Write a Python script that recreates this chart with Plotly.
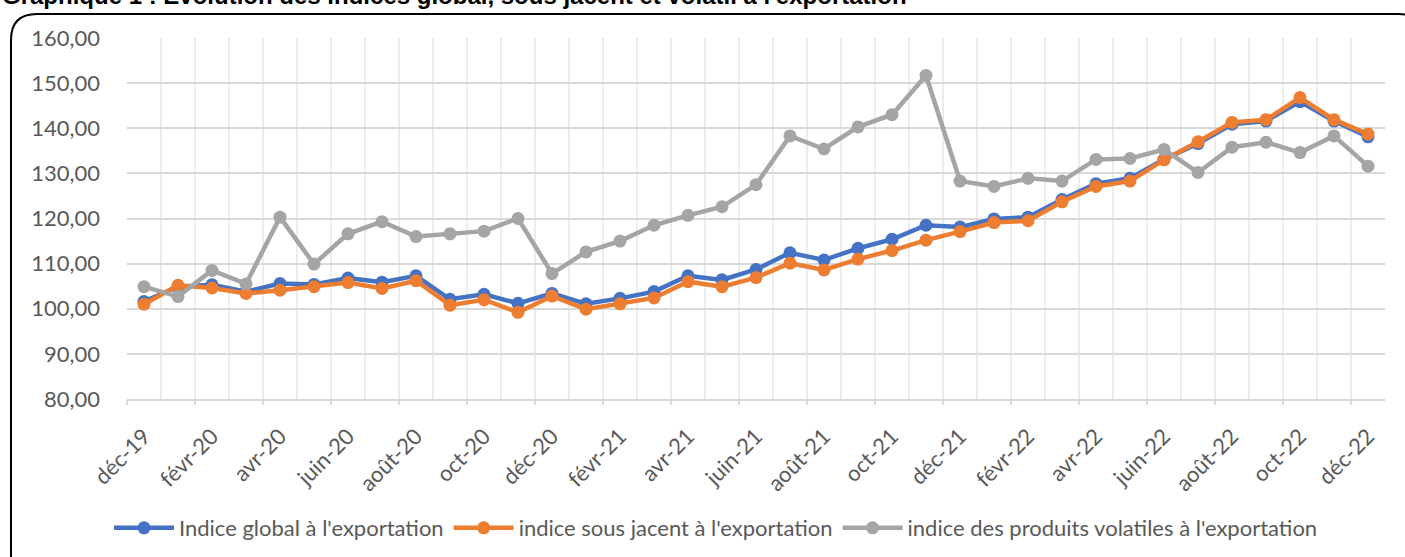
import plotly.graph_objects as go

months = ["déc-19", "janv-20", "févr-20", "mars-20", "avr-20", "mai-20", "juin-20", "juil-20",
          "août-20", "sept-20", "oct-20", "nov-20", "déc-20", "janv-21", "févr-21", "mars-21",
          "avr-21", "mai-21", "juin-21", "juil-21", "août-21", "sept-21", "oct-21", "nov-21",
          "déc-21", "janv-22", "févr-22", "mars-22", "avr-22", "mai-22", "juin-22", "juil-22",
          "août-22", "sept-22", "oct-22", "nov-22", "déc-22"]

indice_global = [101.6, 104.9, 105.3, 103.8, 105.6, 105.4, 106.8, 105.9, 107.3, 102.1, 103.2, 101.2,
                 103.4, 101.1, 102.3, 103.8, 107.3, 106.4, 108.7, 112.4, 110.8, 113.4, 115.4, 118.5,
                 118.1, 119.9, 120.3, 124.2, 127.7, 128.9, 133.1, 136.6, 140.9, 141.6, 145.9, 141.6, 138.1]
indice_sous_jacent = [101.0, 105.2, 104.6, 103.4, 104.1, 104.9, 105.8, 104.5, 106.2, 100.8, 102.0, 99.2,
                      102.8, 99.9, 101.1, 102.4, 106.0, 104.9, 106.9, 110.1, 108.6, 111.0, 112.9, 115.2,
                      117.1, 119.1, 119.5, 123.7, 127.1, 128.3, 133.0, 137.0, 141.3, 141.9, 146.8, 141.9, 138.7]
indice_volatil = [104.9, 102.7, 108.5, 105.5, 120.3, 109.9, 116.6, 119.3, 116.0, 116.6, 117.2, 120.0,
                  107.8, 112.6, 115.0, 118.5, 120.7, 122.6, 127.5, 138.3, 135.4, 140.3, 143.0, 151.7,
                  128.3, 127.1, 128.9, 128.3, 133.1, 133.3, 135.3, 130.2, 135.8, 136.9, 134.6, 138.3, 131.6]

series_names = ["Indice global à l'exportation", "indice sous jacent à l'exportation",
                "indice des produits volatiles à l'exportation"]
colors = ["#4472C4", "#ED7D31", "#A5A5A5"]
title_text = "Graphique 1 : Evolution des indices global, sous jacent et volatil à l'exportation"

W, H = 1405, 557
ML, MR, MT, MB = 127, 20, 38, 158
PW, PH = W - ML - MR, H - MT - MB

def px(x):
    return (x - ML) / PW

def py(y):
    return (H - MB - y) / PH

x = list(range(len(months)))
font_family = "Lato, 'Noto Sans', sans-serif"
txt_col = "#595959"

fig = go.Figure()
for name, vals, col in zip(series_names, [indice_global, indice_sous_jacent, indice_volatil], colors):
    fig.add_trace(go.Scatter(
        x=x, y=vals, name=name, mode="lines+markers",
        line=dict(color=col, width=4.5),
        marker=dict(color=col, size=13),
        customdata=months, hovertemplate="%{customdata}: %{y:.2f}<extra></extra>",
    ))

# dummy trace for the tick-mark axis
fig.add_trace(go.Scatter(x=[x[0]], y=[None], xaxis="x2", showlegend=False, hoverinfo="skip"))

fig.update_layout(
    width=W, height=H,
    margin=dict(l=ML, r=MR, t=MT, b=MB, autoexpand=False),
    paper_bgcolor="white", plot_bgcolor="white",
    separators=", ",
    font=dict(family=font_family, size=22, color=txt_col),
    showlegend=True,
    legend=dict(orientation="h", x=px(716), xanchor="center", y=py(528), yanchor="middle",
                font=dict(size=22, color=txt_col), itemwidth=60, tracegroupgap=0),
    xaxis=dict(
        range=[-0.5, len(months) - 0.5],
        tickmode="array", tickvals=x[::2], ticktext=months[::2], tickangle=-45,
        showgrid=False, zeroline=False,
        showline=True, linecolor="#d9d9d9", linewidth=1.5,
        ticks="", ticklabelstandoff=14,
        tickfont=dict(size=22, color=txt_col),
        minor=dict(tickmode="array", tickvals=[i - 0.5 for i in range(len(months) + 1)],
                   showgrid=True, gridcolor="#ececec", gridwidth=1.5, ticks=""),
    ),
    xaxis2=dict(
        overlaying="x", anchor="y", side="bottom", matches="x",
        range=[-0.5, len(months) - 0.5],
        tickmode="array", tickvals=[i - 0.5 for i in range(0, len(months) + 1, 2)],
        ticks="outside", ticklen=5, tickcolor="#d9d9d9", tickwidth=1.5,
        showticklabels=False, showgrid=False, zeroline=False, showline=False,
    ),
    yaxis=dict(
        range=[80, 160], dtick=10, tick0=80, tickformat=".2f",
        showgrid=True, gridcolor="#d9d9d9", gridwidth=1.5,
        zeroline=False, showline=False, ticks="",
        ticklabelstandoff=26,
        tickfont=dict(size=22, color=txt_col),
    ),
)

# rounded frame
x0, y0, x1, y1, r = 11, 14, 1425, 580, 26
path = (f"M {px(x0)},{py(y0 + r)} Q {px(x0)},{py(y0)} {px(x0 + r)},{py(y0)} "
        f"L {px(x1 - r)},{py(y0)} Q {px(x1)},{py(y0)} {px(x1)},{py(y0 + r)} "
        f"L {px(x1)},{py(y1 - r)} Q {px(x1)},{py(y1)} {px(x1 - r)},{py(y1)} "
        f"L {px(x0 + r)},{py(y1)} Q {px(x0)},{py(y1)} {px(x0)},{py(y1 - r)} Z")
fig.add_shape(type="path", path=path, xref="paper", yref="paper",
              line=dict(color="black", width=2), layer="below")

fig.add_annotation(text=f"<b>{title_text}</b>", xref="paper", yref="paper",
                   x=px(0), y=py(11), xanchor="left", yanchor="bottom", showarrow=False,
                   font=dict(family="Liberation Sans, Arial, sans-serif", size=24, color="black"))

fig.write_html("out.html", config={"displayModeBar": False},
               post_script="document.body.style.margin='0';document.body.style.overflow='hidden';")
